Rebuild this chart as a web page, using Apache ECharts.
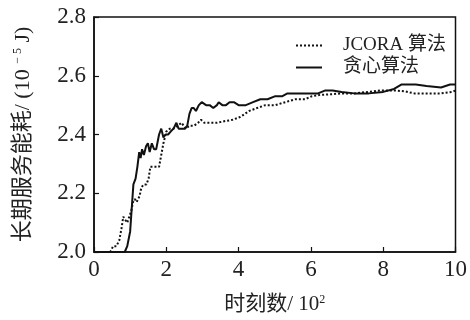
<!DOCTYPE html>
<html>
<head>
<meta charset="utf-8">
<script src="https://cdn.jsdelivr.net/npm/echarts@6/dist/echarts.min.js"></script>
<style>
  html, body { margin: 0; padding: 0; background: #fff; }
  #main { width: 470px; height: 320px; }
</style>
</head>
<body>
<div id="main"></div>
<script>
// time steps, in units of 10^2
const xTicks = [0, 2, 4, 6, 8, 10];
const yTicks = [2.0, 2.2, 2.4, 2.6, 2.8];

// JCORA (dotted)
const jcoraTime = [0, 0.45, 0.53, 0.62, 0.70, 0.76, 0.81, 0.86, 0.92, 0.97, 1.03, 1.08, 1.13, 1.18,
  1.26, 1.31, 1.38, 1.45, 1.51, 1.56, 1.63, 1.72, 1.80, 1.86, 1.92, 2.00, 2.10, 2.20, 2.32,
  2.42, 2.54, 2.64, 2.77, 2.88, 2.96, 3.05, 3.20, 3.40, 3.60, 3.83, 4.05, 4.29, 4.51, 4.74,
  5.02, 5.29, 5.57, 5.84, 6.02, 6.26, 6.57, 6.85, 7.22, 7.58, 7.95, 8.32, 8.59, 8.86, 9.23,
  9.60, 9.92, 10];
const jcoraEnergy = [2.0, 2.0, 2.02, 2.02, 2.04, 2.08, 2.12, 2.11, 2.10, 2.10, 2.14, 2.17, 2.18, 2.17,
  2.19, 2.22, 2.23, 2.23, 2.25, 2.29, 2.29, 2.29, 2.29, 2.33, 2.37, 2.41, 2.42, 2.42, 2.43,
  2.44, 2.42, 2.43, 2.43, 2.44, 2.45, 2.44, 2.44, 2.44, 2.445, 2.45, 2.46, 2.48, 2.49, 2.50,
  2.50, 2.51, 2.52, 2.52, 2.53, 2.535, 2.537, 2.54, 2.54, 2.545, 2.55, 2.55, 2.547, 2.54, 2.54,
  2.54, 2.545, 2.55];

// greedy (solid)
const greedyTime = [0, 0.5, 0.85, 0.92, 1.0, 1.05, 1.09, 1.15, 1.20, 1.25, 1.29, 1.33, 1.38, 1.44,
  1.49, 1.54, 1.60, 1.66, 1.72, 1.80, 1.86, 1.92, 1.98, 2.05, 2.12, 2.20, 2.28, 2.34, 2.42,
  2.52, 2.58, 2.64, 2.70, 2.76, 2.82, 2.90, 2.98, 3.10, 3.20, 3.30, 3.40, 3.45, 3.55, 3.65,
  3.75, 3.87, 4.0, 4.2, 4.4, 4.6, 4.8, 5.0, 5.2, 5.35, 5.5, 5.75, 6.0, 6.2, 6.4, 6.6, 6.85,
  7.2, 7.6, 8.0, 8.3, 8.5, 8.9, 9.2, 9.6, 9.85, 10];
const greedyEnergy = [2.0, 2.0, 2.0, 2.02, 2.07, 2.16, 2.23, 2.25, 2.29, 2.34, 2.32, 2.35, 2.33, 2.36,
  2.37, 2.34, 2.37, 2.35, 2.35, 2.40, 2.42, 2.39, 2.40, 2.40, 2.41, 2.42, 2.44, 2.42, 2.42,
  2.42, 2.43, 2.47, 2.49, 2.49, 2.48, 2.50, 2.51, 2.50, 2.50, 2.49, 2.50, 2.51, 2.50, 2.50,
  2.51, 2.51, 2.50, 2.50, 2.51, 2.52, 2.52, 2.53, 2.53, 2.54, 2.54, 2.54, 2.54, 2.54, 2.55, 2.55, 2.545,
  2.54, 2.54, 2.545, 2.555, 2.57, 2.57, 2.565, 2.56, 2.57, 2.57];

const zip = (xs, ys) => xs.map((x, i) => [x, ys[i]]);

const serif = "'Liberation Serif', 'DejaVu Serif', 'Noto Sans CJK SC', serif";
const supStyle = { fontFamily: serif, fontSize: 12, verticalAlign: 'top', color: '#222' };

const chart = echarts.init(document.getElementById('main'));
chart.setOption({
  animation: false,
  grid: {
    left: 94, right: 12, top: 17, bottom: 65,
    show: true, borderColor: '#111', borderWidth: 1.5
  },
  legend: {
    orient: 'vertical',
    left: 290, top: 31,
    itemWidth: 26, itemHeight: 12, itemGap: 3,
    itemStyle: { opacity: 0 },
    textStyle: { fontFamily: serif, fontSize: 19, color: '#222', padding: [0, 0, 0, 16] },
    data: ['JCORA 算法', '贪心算法']
  },
  xAxis: {
    type: 'value',
    min: 0, max: 10, interval: 2,
    name: '时刻数/ 10{sup|2}',
    nameLocation: 'middle',
    nameGap: 42,
    nameTextStyle: {
      fontFamily: serif, fontSize: 21, color: '#222',
      rich: { sup: supStyle }
    },
    axisLine: { lineStyle: { color: '#111', width: 1.5 } },
    axisTick: { inside: true, length: 5, lineStyle: { color: '#111', width: 1.2 } },
    axisLabel: {
      fontFamily: serif, fontSize: 23, color: '#222', margin: 6,
      formatter: v => xTicks.includes(v) ? String(v) : ''
    },
    splitLine: { show: false }
  },
  yAxis: {
    type: 'value',
    min: 2.0, max: 2.8, interval: 0.2,
    name: '长期服务能耗/ (10 {sup|− 5} J)',
    nameLocation: 'middle',
    nameGap: 60,
    nameTextStyle: {
      fontFamily: serif, fontSize: 22, color: '#222',
      rich: { sup: supStyle }
    },
    axisLine: { lineStyle: { color: '#111', width: 1.5 } },
    axisTick: { inside: true, length: 5, lineStyle: { color: '#111', width: 1.2 } },
    axisLabel: {
      fontFamily: serif, fontSize: 23, color: '#222', margin: 8,
      formatter: v => yTicks.some(t => Math.abs(t - v) < 1e-6) ? v.toFixed(1) : ''
    },
    splitLine: { show: false }
  },
  series: [
    {
      name: 'JCORA 算法',
      type: 'line',
      data: zip(jcoraTime, jcoraEnergy),
      showSymbol: false,
      symbol: 'none',
      lineStyle: { color: '#111', width: 2, type: [2, 2] },
      itemStyle: { color: '#111' }
    },
    {
      name: '贪心算法',
      type: 'line',
      data: zip(greedyTime, greedyEnergy),
      showSymbol: false,
      symbol: 'none',
      lineStyle: { color: '#111', width: 2 },
      itemStyle: { color: '#111' }
    }
  ]
});
</script>
</body>
</html>
